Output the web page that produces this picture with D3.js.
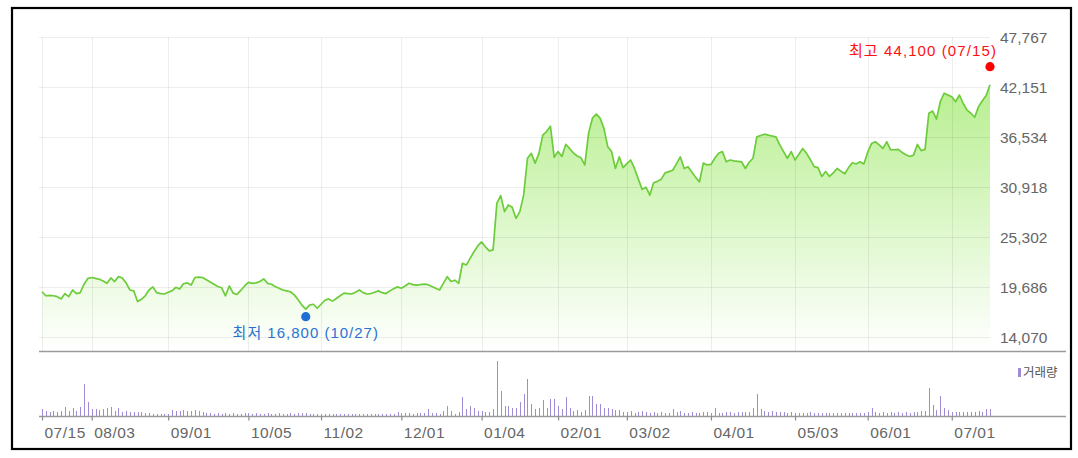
<!DOCTYPE html>
<html><head><meta charset="utf-8">
<script src="https://cdn.jsdelivr.net/npm/d3@7"></script>
<style>
html,body{margin:0;padding:0;background:#fff;}
svg{display:block;}
</style></head>
<body>
<svg id="chart" width="1078" height="458"></svg>
<script>
// ---- data (trading days 2020-07-15 .. 2021-07-15) ----
const price = [
19150,18700,18750,18700,18600,18350,18950,18600,19350,18950,
19050,20000,20650,20750,20650,20550,20350,20100,20700,20300,
20850,20700,20150,19350,19250,18050,18300,18700,19350,19700,
19050,18950,18900,19100,19250,19650,19450,20050,20150,19900,
20750,20800,20750,20500,20250,20000,19750,19600,18700,19800,
19000,18850,19300,19800,20200,20100,20150,20300,20600,20100,
20000,19750,19550,19350,19250,19150,18800,18250,17650,17200,
17650,17750,17300,17750,18200,18350,18100,18400,18700,19000,
18950,18900,19100,19350,19050,18900,18950,19100,19250,19050,
18950,19250,19500,19700,19550,19800,20100,19950,19900,19950,
20000,19950,19750,19550,19350,20100,20850,20300,20450,20100,
22350,22150,22900,23650,24300,24750,24200,23750,23850,29100,
29950,28150,28900,28650,27400,28150,30000,34150,34700,33600,
34700,36750,37150,37750,34250,34900,34350,35700,35250,34750,
34400,34200,33400,37000,38650,39100,38650,37500,35450,34900,
33000,34300,33100,33550,33950,33000,31800,30650,30900,30000,
31400,31550,31800,32500,32650,32800,33550,34300,33000,33200,
32600,32000,31500,33600,33400,33450,34150,34700,34900,33750,
33950,33850,33800,33750,33000,33700,34150,36550,36700,36850,
36750,36650,36550,35650,34900,34150,34900,33950,34600,35250,
34700,34000,33200,33100,32100,32650,32100,32500,33000,32700,
32400,33100,33650,33500,33750,33500,34800,35800,36000,35650,
35250,36000,35100,35100,35150,34800,34550,34350,34500,35700,
35000,35150,39200,39450,38550,40500,41450,41250,41050,40500,
41250,40300,39550,39200,38750,39950,40600,41200,42400
];
const volume = [
700,500,450,500,450,500,900,500,800,550,
900,3200,1400,700,700,600,700,800,900,550,
800,450,500,450,450,400,400,350,300,250,
250,250,250,250,600,550,500,600,500,550,
600,500,450,300,300,250,300,250,300,250,
300,250,250,350,300,250,300,200,250,300,
200,250,300,250,200,300,250,300,350,300,
250,200,250,200,200,250,200,200,250,200,
200,250,200,200,200,200,250,200,200,250,
200,250,200,400,300,300,300,250,300,300,
300,700,300,300,250,500,1000,500,250,400,
1900,700,1000,800,500,500,450,450,700,5500,
2500,1000,1000,800,800,1400,2200,3700,1200,700,
800,1600,800,1700,1700,1000,700,1900,800,500,
650,400,650,2000,2000,1200,1200,800,800,700,
650,600,450,400,500,350,450,550,400,350,
450,350,400,350,300,700,450,500,350,300,
400,350,300,450,400,300,800,350,350,400,
400,350,400,450,400,400,800,2200,700,500,
450,500,400,450,400,350,450,300,350,300,
350,400,300,350,300,300,350,300,300,350,
300,300,350,300,300,350,400,800,400,350,
400,350,400,350,400,350,400,350,400,400,
500,500,2800,1100,600,2000,800,600,450,450,
400,450,400,450,400,500,400,700,700
];
const tickIndex = [0,13,33,54,73,94,115,135,153,175,197,216,238];
const tickLabels = ["07/15","08/03","09/01","10/05","11/02","12/01","01/04","02/01","03/02","04/01","05/03","06/01","07/01"];
const yTicks = [14070,19686,25302,30918,36534,42151,47767];
const high = {index:248, value:44100, label:"최고 44,100 (07/15)"};
const low = {index:69, value:16800, label:"최저 16,800 (10/27)"};
const volumeLabel = "거래량";

// ---- layout ----
const svg = d3.select("#chart");
const fontLatin = "'Liberation Sans', Arial, 'Noto Sans CJK KR', sans-serif";
const x = d3.scaleLinear().domain([0, price.length-1]).range([42, 990]);
const y = d3.scaleLinear().domain([yTicks[0], yTicks[yTicks.length-1]]).range([337, 37]);
const priceBottom = 351;
const volBase = 416;
const yv = d3.scaleLinear().domain([0, d3.max(volume)]).range([volBase, 361]);

// frame
svg.append("rect").attr("x",12).attr("y",8).attr("width",1059).attr("height",441)
  .attr("fill","#fff").attr("stroke","#000").attr("stroke-width",2.2);

// gradient
const defs = svg.append("defs");
const grad = defs.append("linearGradient").attr("id","g").attr("gradientUnits","userSpaceOnUse")
  .attr("x1",0).attr("y1",37).attr("x2",0).attr("y2",priceBottom);
grad.append("stop").attr("offset","0%").attr("stop-color","#abec7c");
grad.append("stop").attr("offset","100%").attr("stop-color","#ffffff");

// area
const area = d3.area().x((d,i)=>x(i)).y0(priceBottom).y1(d=>y(d));
svg.append("path").datum(price).attr("d",area).attr("fill","url(#g)");

// grid
const grid = svg.append("g").attr("stroke","rgba(0,0,0,0.065)").attr("stroke-width",1).attr("shape-rendering","crispEdges");
grid.selectAll(".h").data(yTicks).join("line")
  .attr("x1",39).attr("x2",990).attr("y1",d=>Math.round(y(d))+0.5).attr("y2",d=>Math.round(y(d))+0.5);
grid.selectAll(".v").data(tickIndex).join("line")
  .attr("x1",d=>Math.round(x(d))+0.5).attr("x2",d=>Math.round(x(d))+0.5).attr("y1",37).attr("y2",priceBottom);

// line
const line = d3.line().x((d,i)=>x(i)).y(d=>y(d));
svg.append("path").datum(price).attr("d",line).attr("fill","none")
  .attr("stroke","#6ccc3a").attr("stroke-width",1.7).attr("stroke-linejoin","round");

// panel separator lines
svg.append("line").attr("x1",39).attr("x2",1066).attr("y1",priceBottom+0.5).attr("y2",priceBottom+0.5)
  .attr("stroke","#9a9a9a").attr("stroke-width",1.5);

// volume bars
svg.append("g").attr("shape-rendering","crispEdges").selectAll("rect").data(volume).join("rect")
  .attr("x",(d,i)=>Math.round(x(i))).attr("width",1)
  .attr("y",d=>yv(d)).attr("height",d=>volBase-yv(d)).attr("fill","#a08bd6");

svg.append("line").attr("x1",39).attr("x2",1066).attr("y1",volBase+0.5).attr("y2",volBase+0.5)
  .attr("stroke","#9a9a9a").attr("stroke-width",1.5);

// x axis
const xAxis = d3.axisBottom(x).tickValues(tickIndex).tickFormat((d,i)=>tickLabels[i]).tickSize(4).tickPadding(6);
const gx = svg.append("g").attr("transform",`translate(0,${volBase+0.5})`).call(xAxis);
gx.select(".domain").remove();
gx.selectAll(".tick line").attr("stroke","#8a8a8a").attr("stroke-width",1.2);
gx.selectAll(".tick text").attr("text-anchor","start").attr("dx",2).attr("fill","#666")
  .style("font-family",fontLatin).style("font-size","15.5px").style("letter-spacing","0.5px");

// y axis
const yAxis = d3.axisRight(y).tickValues(yTicks).tickFormat(d3.format(",")).tickSize(0).tickPadding(0);
const gy = svg.append("g").attr("transform","translate(1000,1)").call(yAxis);
gy.select(".domain").remove();
gy.selectAll(".tick text").attr("fill","#666").style("font-family",fontLatin).style("font-size","15.5px");

// high / low markers
svg.append("circle").attr("cx",x(high.index)).attr("cy",y(high.value)-3).attr("r",4.6).attr("fill","#ff0000");
svg.append("text").attr("x",997).attr("y",56).attr("text-anchor","end").attr("fill","#ff1010")
  .style("font-family",fontLatin).style("font-size","15px").style("letter-spacing","1.1px").text(high.label);
svg.append("circle").attr("cx",x(low.index)).attr("cy",y(low.value)+4).attr("r",4.6).attr("fill","#1f6fd6");
svg.append("text").attr("x",x(low.index)).attr("y",338).attr("text-anchor","middle").attr("fill","#2a72d2")
  .style("font-family",fontLatin).style("font-size","15px").style("letter-spacing","1.0px").text(low.label);

// volume legend
svg.append("rect").attr("x",1018).attr("y",368).attr("width",3).attr("height",9).attr("fill","#a08bd6");
svg.append("text").attr("x",1023).attr("y",377).attr("fill","#555")
  .style("font-family","'Noto Sans CJK KR', sans-serif").style("font-size","12.5px").text(volumeLabel);
</script>
</body></html>
